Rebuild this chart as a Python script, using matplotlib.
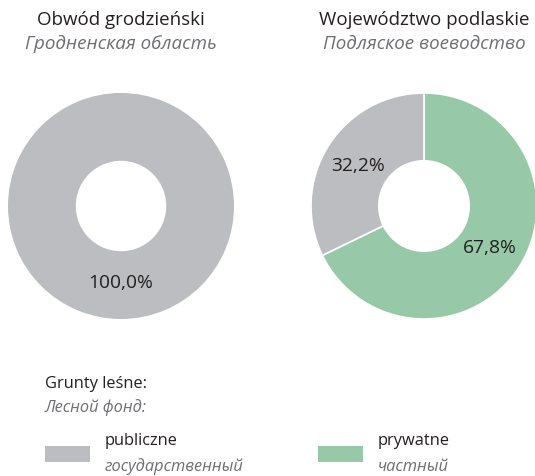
import matplotlib
matplotlib.use("Agg")
import matplotlib.pyplot as plt
from matplotlib.patches import Rectangle
import numpy as np

plt.rcParams['font.family'] = ['Open Sans', 'DejaVu Sans']

W, H = 535, 477
titles_pl = ["Obwód grodzieński", "Województwo podlaskie"]
titles_ru = ["Гродненская область", "Подляское воеводство"]
categories_pl = ["publiczne", "prywatne"]
categories_ru = ["государственный", "частный"]
colors = {"publiczne": "#bcbdc0", "prywatne": "#97c9a8"}
# values per region: (publiczne, prywatne)
grodno = [100.0, 0.0]
podlaskie = [32.2, 67.8]
legend_title_pl = "Grunty leśne:"
legend_title_ru = "Лесной фонд:"

DARK = "#231f20"
GREY = "#6d6e71"
FS_T = 13.5
FS_L = 11.8
FS_P = 13.8

fig = plt.figure(figsize=(W / 100, H / 100), dpi=100)

def px_axes(x0, y0, x1, y1):
    return fig.add_axes([x0 / W, 1 - y1 / H, (x1 - x0) / W, (y1 - y0) / H])

def fmt(v):
    return f"{v:.1f}%".replace(".", ",")

def donut(ax, vals):
    # order: prywatne clockwise from top, then publiczne
    order = [1, 0]
    v = [vals[i] for i in order]
    c = [colors[categories_pl[i]] for i in order]
    nz = [(vv, cc) for vv, cc in zip(v, c) if vv > 0]
    ax.pie([a for a, _ in nz], colors=[b for _, b in nz], startangle=90,
           counterclock=False, radius=1.0,
           wedgeprops=dict(width=0.6, edgecolor="white", linewidth=1.2 if len(nz) > 1 else 0))
    ang = 90.0
    for vv, _ in nz:
        mid = ang - vv / 100 * 360 / 2
        ang -= vv / 100 * 360
        r = 0.69
        if vv == 100:
            mid = -90
            r = 0.67
        ax.text(r * np.cos(np.radians(mid)), r * np.sin(np.radians(mid)), fmt(vv),
                ha="center", va="center", fontsize=FS_P, color=DARK)
    ax.set_xlim(-1, 1)
    ax.set_ylim(-1, 1)
    ax.set_aspect("equal")
    ax.axis("off")

ax1 = px_axes(8, 94, 234, 320)
donut(ax1, grodno)
ax2 = px_axes(311, 94, 537, 320)
donut(ax2, podlaskie)

# titles
for cx, tp, tr in [(121, titles_pl[0], titles_ru[0]), (424, titles_pl[1], titles_ru[1])]:
    fig.text(cx / W, 1 - 20 / H, tp, ha="center", va="center", fontsize=FS_T, color=DARK)
    fig.text(cx / W, 1 - 44 / H, tr, ha="center", va="center", fontsize=FS_T, color=GREY, style="italic")

# legend
fig.text(45 / W, 1 - 384 / H, legend_title_pl, ha="left", va="center", fontsize=FS_L, color=DARK)
fig.text(45 / W, 1 - 408 / H, legend_title_ru, ha="left", va="center", fontsize=FS_L, color=GREY, style="italic")
for i, x0 in enumerate([45, 318]):
    fig.patches.append(Rectangle((x0 / W, 1 - 463 / H), 45 / W, 16 / H,
                                 transform=fig.transFigure, facecolor=colors[categories_pl[i]],
                                 edgecolor="none"))
    fig.text((x0 + 60) / W, 1 - 441 / H, categories_pl[i], ha="left", va="center", fontsize=FS_L, color=DARK)
    fig.text((x0 + 60) / W, 1 - 467 / H, categories_ru[i], ha="left", va="center", fontsize=FS_L, color=GREY, style="italic")

fig.savefig("out.png", dpi=100, facecolor="white")
